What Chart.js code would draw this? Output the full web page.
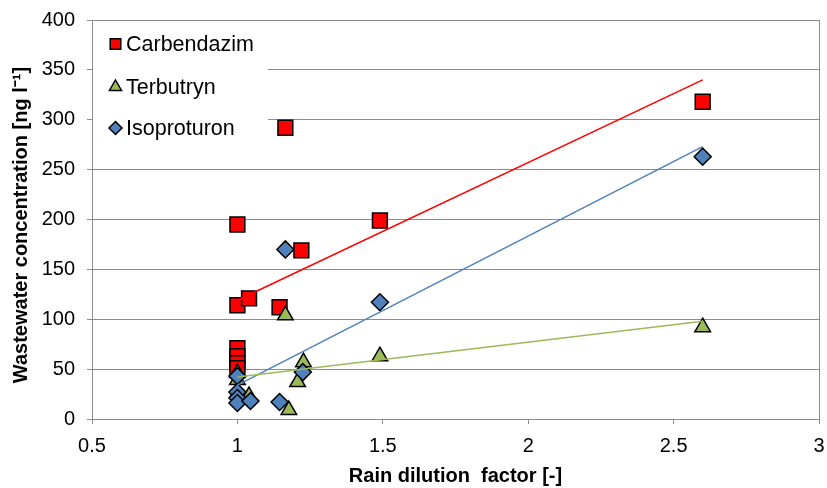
<!DOCTYPE html>
<html>
<head>
<meta charset="utf-8">
<script src="https://cdn.jsdelivr.net/npm/chart.js@4"></script>
<style>
  html, body { margin: 0; padding: 0; background: #fff; }
  #wrap { width: 827px; height: 488px; position: relative; }
</style>
</head>
<body>
<div id="wrap"><canvas id="c" width="827" height="488"></canvas></div>
<script>
// ---- data ----
const seriesNames = ['Carbendazim', 'Terbutryn', 'Isoproturon'];

const carbX = [1.0, 1.0, 1.0, 1.0, 1.0, 1.0, 1.04, 1.145, 1.165, 1.22, 1.49, 2.6];
const carbY = [195, 114, 71, 63, 56, 51, 121, 112, 292, 169, 199, 318];

const terbX = [1.0, 1.0, 1.0, 1.04, 1.165, 1.177, 1.207, 1.227, 1.49, 2.6];
const terbY = [46, 39, 26, 23, 104, 9, 37, 57, 63, 92];

const isoX = [1.0, 1.0, 1.0, 1.0, 1.045, 1.145, 1.165, 1.225, 1.49, 2.6];
const isoY = [43, 27, 21, 16, 18, 17, 170, 47, 117, 263];

// trend lines: end points
const carbTrendX = [1.0, 2.6];
const carbTrendY = [119, 340];
const terbTrendX = [1.0, 2.6];
const terbTrendY = [42, 98];
const isoTrendX = [1.0, 2.6];
const isoTrendY = [34, 273];

const xTicks = [0.5, 1, 1.5, 2, 2.5, 3];
const yTicks = [0, 50, 100, 150, 200, 250, 300, 350, 400];

// ---- styling ----
const RED = '#FF0000', GREEN = '#9BBB59', BLUE = '#4F81BD';
const AXIS = '#8c8c8c';
const FONT = "'Liberation Sans', Arial, sans-serif";

const zip = (xs, ys) => xs.map((x, i) => ({ x: x, y: ys[i] }));

const markerStyles = [
  { name: seriesNames[0], style: 'rect', fill: RED, lr: 7.5 },
  { name: seriesNames[1], style: 'triangle', fill: GREEN, lr: 7 },
  { name: seriesNames[2], style: 'rectRot', fill: BLUE, lr: 6.5 }
];

function drawMarker(ctx, style, x, y, r, fill) {
  ctx.save();
  ctx.beginPath();
  if (style === 'rect') {
    const s = r * Math.SQRT1_2;
    ctx.rect(x - s, y - s, 2 * s, 2 * s);
  } else if (style === 'triangle') {
    ctx.moveTo(x, y - r);
    ctx.lineTo(x + r * 0.866, y + r * 0.5);
    ctx.lineTo(x - r * 0.866, y + r * 0.5);
    ctx.closePath();
  } else {
    ctx.moveTo(x, y - r);
    ctx.lineTo(x + r, y);
    ctx.lineTo(x, y + r);
    ctx.lineTo(x - r, y);
    ctx.closePath();
  }
  ctx.fillStyle = fill;
  ctx.fill();
  ctx.lineWidth = 1.5;
  ctx.strokeStyle = '#000';
  ctx.stroke();
  ctx.restore();
}

const legendPlugin = {
  id: 'insideLegend',
  afterDraw(chart) {
    const ctx = chart.ctx;
    ctx.save();
    ctx.fillStyle = '#fff';
    ctx.fillRect(93, 24, 175, 124);
    const rows = [44, 87, 128];
    ctx.font = '21.5px ' + FONT;
    ctx.fillStyle = '#000';
    ctx.textBaseline = 'middle';
    ctx.textAlign = 'left';
    markerStyles.forEach((m, i) => {
      drawMarker(ctx, m.style, 115.5, rows[i], m.lr, m.fill);
      ctx.fillText(m.name, 126, rows[i] + 1);
    });
    ctx.restore();
  }
};

const datasets = [
  { type: 'line', label: 'Carbendazim trend', data: zip(carbTrendX, carbTrendY), borderColor: RED, borderWidth: 1.5, pointRadius: 0, fill: false, order: 0 },
  { type: 'line', label: 'Terbutryn trend', data: zip(terbTrendX, terbTrendY), borderColor: GREEN, borderWidth: 1.5, pointRadius: 0, fill: false, order: 0 },
  { type: 'line', label: 'Isoproturon trend', data: zip(isoTrendX, isoTrendY), borderColor: BLUE, borderWidth: 1.5, pointRadius: 0, fill: false, order: 0 },
  { type: 'scatter', label: seriesNames[2], data: zip(isoX, isoY), pointStyle: 'rectRot', pointRadius: 8.5, backgroundColor: BLUE, borderColor: '#000', borderWidth: 1.5, order: 1 },
  { type: 'scatter', label: seriesNames[1], data: zip(terbX, terbY), pointStyle: 'triangle', pointRadius: 9, backgroundColor: GREEN, borderColor: '#000', borderWidth: 1.5, order: 2 },
  { type: 'scatter', label: seriesNames[0], data: zip(carbX, carbY), pointStyle: 'rect', pointRadius: 10.5, backgroundColor: RED, borderColor: '#000', borderWidth: 1.5, order: 3 }
];

new Chart(document.getElementById('c'), {
  type: 'scatter',
  data: { datasets: datasets },
  options: {
    responsive: false,
    animation: false,
    devicePixelRatio: 1,
    layout: { autoPadding: false, padding: { top: 20, right: 8, left: 0, bottom: 0 } },
    plugins: { legend: { display: false }, tooltip: { enabled: false } },
    scales: {
      x: {
        type: 'linear',
        min: xTicks[0], max: xTicks[xTicks.length - 1],
        afterBuildTicks: (s) => { s.ticks = xTicks.map(v => ({ value: v })); },
        afterFit: (s) => { s.height = 69; s.paddingLeft = 0; s.paddingRight = 0; },
        ticks: { color: '#000', font: { family: FONT, size: 20 }, padding: 10,
                 maxRotation: 0, callback: (v) => String(v) },
        grid: { color: (c) => (c.tick && c.tick.value === 3 ? AXIS : 'rgba(0,0,0,0)'),
                tickColor: AXIS, tickLength: 5, lineWidth: 1 },
        border: { color: AXIS, width: 1 },
        title: { display: true, text: 'Rain dilution  factor [-]', color: '#000',
                 font: { family: FONT, size: 20, weight: 'bold' }, padding: { top: 0, bottom: 0 } }
      },
      y: {
        type: 'linear',
        min: yTicks[0], max: yTicks[yTicks.length - 1],
        afterBuildTicks: (s) => { s.ticks = yTicks.map(v => ({ value: v })); },
        afterFit: (s) => { s.width = 92; s.paddingTop = 0; s.paddingBottom = 0; },
        ticks: { color: '#000', font: { family: FONT, size: 20 }, padding: 12 },
        grid: { color: AXIS, tickColor: AXIS, tickLength: 5, lineWidth: 1 },
        border: { color: AXIS, width: 1 },
        title: { display: true, text: 'Wastewater concentration [ng l\u207B\u00B9]  ', color: '#000',
                 font: { family: FONT, size: 20, weight: 'bold' }, padding: { top: 9, bottom: 0 } }
      }
    }
  },
  plugins: [legendPlugin]
});
</script>
</body>
</html>
